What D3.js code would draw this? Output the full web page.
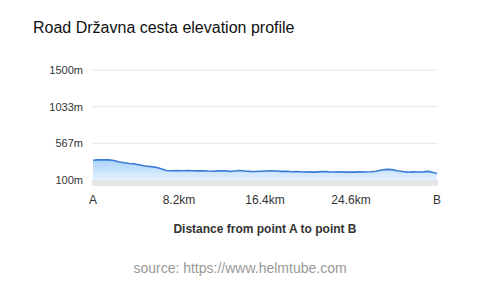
<!DOCTYPE html>
<html>
<head>
<meta charset="utf-8">
<script src="https://cdn.jsdelivr.net/npm/d3@7"></script>
<style>
  body { margin: 0; background: #fff; font-family: "Liberation Sans", Arial, sans-serif; }
</style>
</head>
<body>
<div id="vis"></div>
<script>
// distance along the road (km) and elevation (m)
var distances = [0, 0.5, 1, 1.5, 2, 2.5, 3, 3.5, 4, 4.5, 5, 5.5, 6, 6.5, 7, 7.5, 8, 8.5, 9, 9.5,
    10, 10.5, 11, 11.5, 12, 12.5, 13, 13.5, 14, 14.5, 15, 15.5, 16, 16.5, 17, 17.5, 18, 18.5, 19, 19.5,
    20, 20.5, 21, 21.5, 22, 22.5, 23, 23.5, 24, 24.5, 25, 25.5, 26, 26.5, 27, 27.5, 28, 28.5, 29, 29.5,
    30, 30.5, 31, 31.5, 32, 32.5, 32.8];
var elevations = [352, 356, 358, 356, 348, 330, 320, 310, 305, 292, 278, 270, 262, 244, 222, 218, 220, 218, 220, 218,
    216, 218, 214, 212, 216, 218, 210, 214, 222, 214, 210, 208, 212, 214, 216, 214, 210, 212, 206, 208,
    202, 204, 200, 204, 208, 204, 202, 204, 200, 202, 200, 204, 202, 206, 212, 228, 236, 232, 218, 208,
    198, 204, 202, 204, 210, 192, 186];
var yTicks = [100, 567, 1033, 1500];
var xTicks = [0, 8.2, 16.4, 24.6, 32.8];
var xTickLabels = ["A", "8.2km", "16.4km", "24.6km", "B"];

var W = 480, H = 287;
var plotL = 92, plotR = 438, plotT = 70, plotB = 186;

var svg = d3.select("#vis").append("svg")
    .attr("width", W).attr("height", H);

var x = d3.scaleLinear().domain([0, 32.8]).range([plotL + 1, plotR - 1]);
var y = d3.scaleLinear().domain([24, 1500]).range([plotB, plotT]);

var data = distances.map(function (d, i) { return { km: d, m: elevations[i] }; });

// gradient for the area
var defs = svg.append("defs");
var grad = defs.append("linearGradient").attr("id", "fillGrad")
    .attr("x1", 0).attr("y1", 0).attr("x2", 0).attr("y2", 1);
grad.append("stop").attr("offset", "0%").attr("stop-color", "#9ccdfb");
grad.append("stop").attr("offset", "100%").attr("stop-color", "#e3f1fe");

// grid lines
svg.append("g")
    .selectAll("line")
    .data(yTicks.slice(1))
    .enter().append("line")
    .attr("x1", plotL).attr("x2", plotR)
    .attr("y1", d => y(d)).attr("y2", d => y(d))
    .attr("stroke", "#e6e6e6")
    .attr("stroke-width", 1);

// grey band below the lowest tick
svg.append("rect")
    .attr("x", plotL).attr("width", plotR - plotL)
    .attr("y", y(100)).attr("height", plotB - y(100))
    .attr("fill", "#e4e6e9");

svg.append("path")
    .datum(data)
    .attr("fill", "url(#fillGrad)")
    .attr("opacity", 0.9)
    .attr("d", d3.area()
        .x(d => x(d.km))
        .y0(y(100))
        .y1(d => y(d.m)));

svg.append("path")
    .datum(data)
    .attr("fill", "none")
    .attr("stroke", "#3a7bd5")
    .attr("stroke-width", 1.6)
    .attr("stroke-linejoin", "round")
    .attr("d", d3.line()
        .x(d => x(d.km))
        .y(d => y(d.m)));

// y labels
svg.append("g")
    .selectAll("text")
    .data(yTicks)
    .enter().append("text")
    .attr("x", 83)
    .attr("y", d => y(d) + 4)
    .attr("text-anchor", "end")
    .attr("font-size", 11)
    .attr("fill", "#333")
    .text(d => d + "m");

// x labels
svg.append("g")
    .selectAll("text")
    .data(xTicks)
    .enter().append("text")
    .attr("x", d => x(d))
    .attr("y", 204)
    .attr("text-anchor", "middle")
    .attr("font-size", 12)
    .attr("fill", "#333")
    .text((d, i) => xTickLabels[i]);

svg.append("text")
    .attr("x", (plotL + plotR) / 2)
    .attr("y", 233)
    .attr("text-anchor", "middle")
    .attr("font-size", 12)
    .attr("font-weight", "bold")
    .attr("fill", "#333")
    .text("Distance from point A to point B");

svg.append("text")
    .attr("x", 33)
    .attr("y", 33)
    .attr("font-size", 16)
    .attr("fill", "#111")
    .text("Road Državna cesta elevation profile");

svg.append("text")
    .attr("x", 240)
    .attr("y", 273)
    .attr("text-anchor", "middle")
    .attr("font-size", 14)
    .attr("fill", "#999")
    .text("source: https://www.helmtube.com");
</script>
</body>
</html>
